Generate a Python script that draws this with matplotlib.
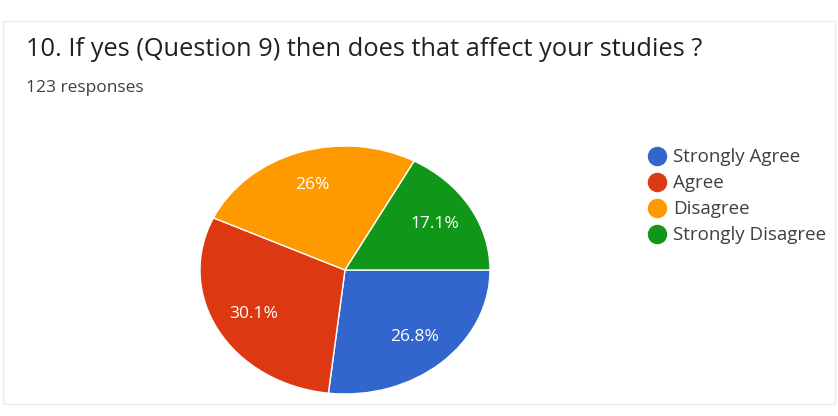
import matplotlib.pyplot as plt
from matplotlib.lines import Line2D
from matplotlib.patches import Rectangle

plt.rcParams['font.family'] = ['Open Sans', 'DejaVu Sans']

# Survey answers (123 responses)
answers = ['Strongly Agree', 'Agree', 'Disagree', 'Strongly Disagree']
counts = [33, 37, 32, 21]
colors = ['#3366cc', '#dc3912', '#ff9900', '#109618']

fig = plt.figure(figsize=(8.38, 4.16), dpi=100)
fig.patch.set_facecolor('white')

# faint card border
fig.patches.append(Rectangle((0.004, 0.03), 0.992, 0.92, transform=fig.transFigure,
                             fill=False, edgecolor='#ececec', linewidth=1))

fig.text(26 / 838, 1 - 50 / 416, '10. If yes (Question 9) then does that affect your studies ?',
         fontsize=18.3, color='#202124', va='center', ha='left')
fig.text(26 / 838, 1 - 88 / 416, '123 responses', fontsize=12.5, color='#3c4043',
         va='center', ha='left')

# pie axes (slightly squashed vertically, as in the screenshot)
ax = fig.add_axes([200 / 838, 22 / 416, 290 / 838, 248 / 416])
wedges, texts, autotexts = ax.pie(
    counts, colors=colors, startangle=0, counterclock=False,
    autopct=lambda p: f'{p:.1f}%'.replace('.0%', '%'), pctdistance=0.72,
    wedgeprops=dict(edgecolor='white', linewidth=1),
    textprops=dict(color='white', fontsize=12.5))
ax.set_aspect('auto')
ax.set_xlim(-1, 1)
ax.set_ylim(-1, 1)
ax.axis('off')

handles = [Line2D([0], [0], marker='o', linestyle='none', markersize=13,
                  markerfacecolor=c, markeredgecolor=c) for c in colors]
fig.legend(handles, answers, loc='upper left', bbox_to_anchor=(640 / 838, 1 - 141 / 416),
           frameon=False, fontsize=13.5, labelcolor='#3c4043', handletextpad=0.35,
           labelspacing=0.42, borderaxespad=0, handlelength=1.0)

fig.savefig('out.png', dpi=100, facecolor='white')
